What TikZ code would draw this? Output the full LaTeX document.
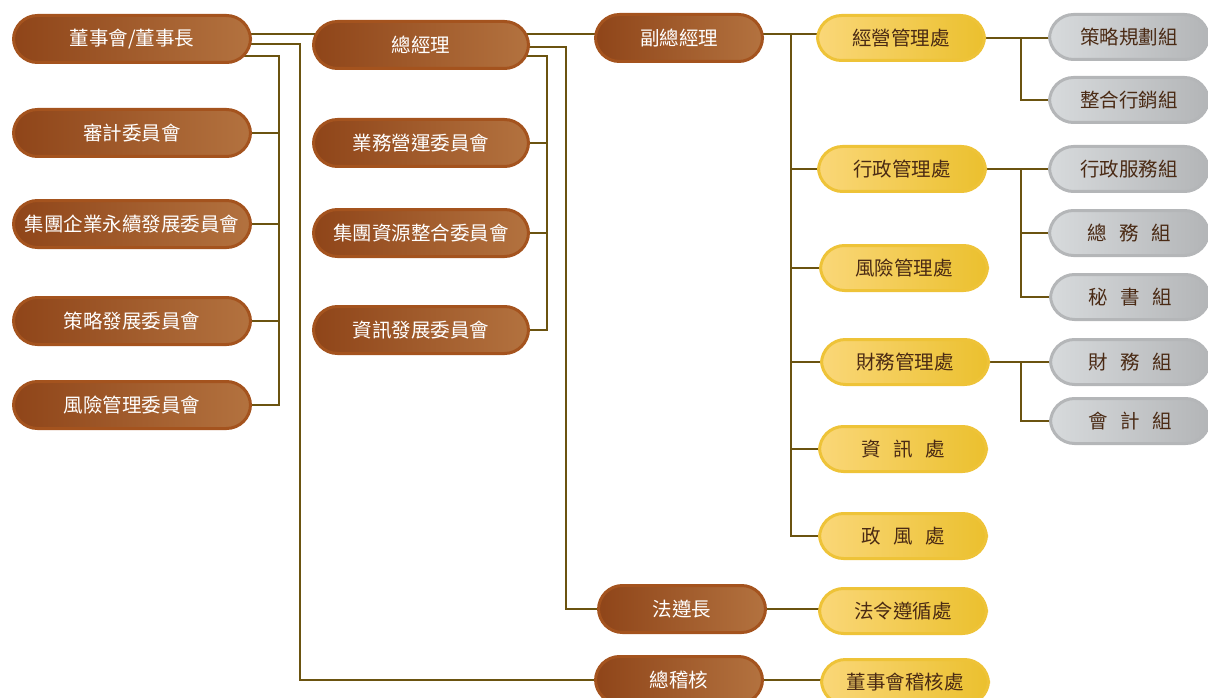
\documentclass[tikz,border=0pt]{standalone}
\usepackage{fontspec}
\setmainfont{Noto Sans CJK TC}
\usetikzlibrary{backgrounds}
\definecolor{linkcol}{HTML}{6B5310}
\definecolor{brownL}{HTML}{8F4519}
\definecolor{brownM}{HTML}{AB6838}
\definecolor{brownR}{HTML}{B3723F}
\definecolor{brownD}{HTML}{A4531E}
\definecolor{goldL}{HTML}{FAD778}
\definecolor{goldM}{HTML}{F6D062}
\definecolor{goldR}{HTML}{EBC02E}
\definecolor{goldD}{HTML}{EEC338}
\definecolor{greyL}{HTML}{D7DADC}
\definecolor{greyM}{HTML}{CDD0D2}
\definecolor{greyR}{HTML}{B3B5B7}
\definecolor{greyD}{HTML}{B4B6B8}
\definecolor{inkcol}{HTML}{4A2A14}
\newcommand{\gp}{\hspace{0.65em}}
\begin{document}
\begin{tikzpicture}[x=1pt,y=-1pt,
            every node/.style = {rounded corners=24pt, line width=3pt, inner sep=0pt,
                font=\fontsize{19.5}{20}\selectfont},
            brownbox/.style = {draw=brownD, left color=brownL, middle color=brownM,
                right color=brownR, text=white, minimum height=47pt},
            goldbox/.style = {draw=goldD, left color=goldL, middle color=goldM,
                right color=goldR, text=inkcol, minimum width=167pt, minimum height=45pt},
            greybox/.style = {draw=greyD, left color=greyL, middle color=greyM,
                right color=greyR, text=inkcol, minimum width=159pt, minimum height=45pt},
            link/.style = {draw=linkcol, line width=2.7pt}]
\useasboundingbox (0,0) rectangle (1208,698);
\node[brownbox, minimum width=237pt] (board) at (132,39) {董事會/董事長};
\node[brownbox, minimum width=237pt] (audit) at (132,133) {審計委員會};
\node[brownbox, minimum width=237pt] (esg) at (132,224) {集團企業永續發展委員會};
\node[brownbox, minimum width=237pt] (stratc) at (132,321) {策略發展委員會};
\node[brownbox, minimum width=237pt] (riskc) at (132,405) {風險管理委員會};
\node[brownbox, minimum width=215pt] (gm) at (421,45) {總經理};
\node[brownbox, minimum width=215pt] (ops) at (421,143) {業務營運委員會};
\node[brownbox, minimum width=215pt] (res) at (421,233) {集團資源整合委員會};
\node[brownbox, minimum width=215pt] (itc) at (421,330) {資訊發展委員會};
\node[brownbox, minimum width=167pt] (vgm) at (679,38) {副總經理};
\node[brownbox, minimum width=167pt] (legal) at (682,609) {法遵長};
\node[brownbox, minimum width=167pt] (chief) at (679,680) {總稽核};
\node[goldbox] (bizd) at (901,38) {經營管理處};
\node[goldbox] (admd) at (902,169) {行政管理處};
\node[goldbox] (riskd) at (904,268) {風險管理處};
\node[goldbox] (find) at (905,362) {財務管理處};
\node[goldbox] (itd) at (903,449) {資\gp 訊\gp 處};
\node[goldbox] (ethd) at (903,536) {政\gp 風\gp 處};
\node[goldbox] (compd) at (903,611) {法令遵循處};
\node[goldbox] (auditd) at (905,682) {董事會稽核處};
\node[greybox] (plan) at (1129,37) {策略規劃組};
\node[greybox] (mkt) at (1129,100) {整合行銷組};
\node[greybox] (svc) at (1129,169) {行政服務組};
\node[greybox] (gen) at (1129,233) {總\gp 務\gp 組};
\node[greybox] (sec) at (1130,297) {秘\gp 書\gp 組};
\node[greybox] (fin) at (1130,362) {財\gp 務\gp 組};
\node[greybox] (acct) at (1130,421) {會\gp 計\gp 組};
\begin{scope}[on background layer]
\draw[link] (board |- 0,34) -- (gm |- 0,34);
\draw[link] (board |- 0,44) -| (300,680) -- (chief);
\draw[link] (board |- 0,56) -| (279,405) -- (riskc);
\foreach \n in {audit,esg,stratc}
    \draw[link] (\n) -- (\n -| 279,0);
\draw[link] (gm |- 0,34) -- (vgm |- 0,34);
\draw[link] (gm |- 0,47) -| (566,609) -- (legal);
\draw[link] (gm |- 0,56) -| (547,330) -- (itc);
\foreach \n in {ops,res}
    \draw[link] (\n) -- (\n -| 547,0);
\draw[link] (vgm |- 0,34) -- (bizd |- 0,34);
\draw[link] (791,34) |- (ethd);
\foreach \n in {admd,riskd,find,itd}
    \draw[link] (\n) -- (\n -| 791,0);
\draw[link] (bizd) -- (bizd -| plan);
\draw[link] (bizd -| 1021,0) |- (mkt);
\draw[link] (admd) -- (admd -| svc);
\draw[link] (admd -| 1021,0) |- (sec);
\draw[link] (gen) -- (gen -| 1021,0);
\draw[link] (find) -- (find -| fin);
\draw[link] (find -| 1021,0) |- (acct);
\draw[link] (legal) -- (legal -| compd);
\draw[link] (chief) -- (chief -| auditd);
\end{scope}
\end{tikzpicture}
\end{document}
